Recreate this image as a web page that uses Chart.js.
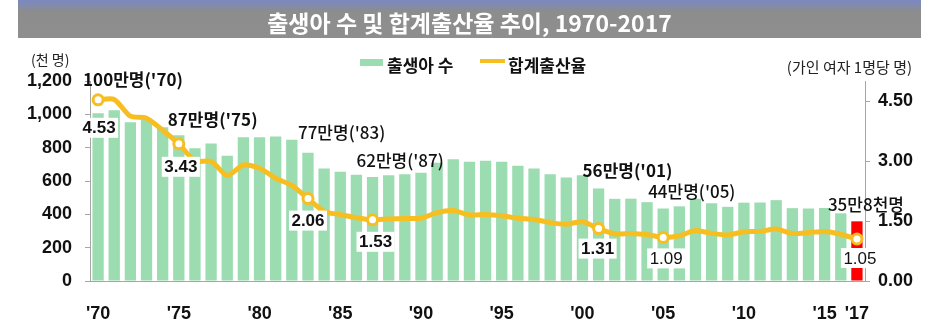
<!DOCTYPE html>
<html>
<head>
<meta charset="utf-8">
<script src="https://cdn.jsdelivr.net/npm/chart.js@4"></script>
<style>
  body { margin: 0; background: #fff; }
  #wrap { position: relative; width: 940px; height: 329px; }
  #title {
    position: absolute; left: 18px; top: 0; width: 903px; height: 38px;
    background: linear-gradient(#7a89c2 0px, #8d8d8d 12px, #8e8e8e 38px);
    color: #fff; font: bold 23px 'Noto Sans CJK KR', sans-serif;
    text-align: center; line-height: 44px; z-index: 2;
  }
  canvas { position: absolute; left: 0; top: 0; }
</style>
</head>
<body>
<div id="wrap">
  <div id="title">출생아 수 및 합계출산율 추이, 1970-2017</div>
  <canvas id="myChart" width="940" height="329"></canvas>
</div>
<script>
const years = [
  1970, 1971, 1972, 1973, 1974, 1975, 1976, 1977, 1978, 1979,
  1980, 1981, 1982, 1983, 1984, 1985, 1986, 1987, 1988, 1989,
  1990, 1991, 1992, 1993, 1994, 1995, 1996, 1997, 1998, 1999,
  2000, 2001, 2002, 2003, 2004, 2005, 2006, 2007, 2008, 2009,
  2010, 2011, 2012, 2013, 2014, 2015, 2016, 2017,
];

// 출생아 수 (천 명)
const births = [
  1007, 1025, 952, 967, 923, 875, 797, 825, 751, 863,
  863, 867, 848, 770, 675, 656, 637, 624, 634, 640,
  650, 709, 731, 716, 721, 715, 691, 675, 641, 621,
  635, 555, 493, 494, 473, 435, 448, 493, 466, 445,
  470, 471, 485, 437, 435, 438, 406, 358,
];

// 합계출산율 (가임 여자 1명당 명)
const tfr = [
  4.53, 4.54, 4.12, 4.07, 3.77, 3.43, 3.00, 2.99, 2.64, 2.90,
  2.82, 2.57, 2.39, 2.06, 1.74, 1.66, 1.58, 1.53, 1.55, 1.56,
  1.57, 1.71, 1.76, 1.65, 1.66, 1.63, 1.57, 1.54, 1.46, 1.42,
  1.48, 1.31, 1.18, 1.19, 1.16, 1.09, 1.13, 1.26, 1.19, 1.15,
  1.23, 1.24, 1.30, 1.19, 1.21, 1.24, 1.17, 1.05,
];

const tickYears = [1970, 1975, 1980, 1985, 1990, 1995, 2000, 2005, 2010, 2015, 2017];
const tickText = ["'70", "'75", "'80", "'85", "'90", "'95", "'00", "'05", "'10", "'15", "'17"];
const leftTicks = [0, 200, 400, 600, 800, 1000, 1200];
const rightTicks = [0, 1.5, 3.0, 4.5];

// 강조 연도
const noteYears = [1970, 1975, 1983, 1987, 2001, 2005, 2017];
const birthNotes = ["100만명('70)", "87만명('75)", "77만명('83)", "62만명('87)", "56만명('01)", "44만명('05)", "35만8천명"];

const GREEN = 'rgb(155,220,176)';
const RED = '#ff0000';
const GOLD = 'rgb(247,190,33)';
const AXIS = '#a6a6a6';
const NUM_FONT = "'Liberation Sans', Arial, 'Noto Sans CJK KR', sans-serif";
const KR_FONT = "'Noto Sans CJK KR', sans-serif";

const noteIdx = noteYears.map(y => years.indexOf(y));

function comma(v) {
  const s = String(v);
  return s.length > 3 ? s.slice(0, s.length - 3) + ',' + s.slice(-3) : s;
}

// 라벨 배치 (픽셀 오프셋)
const birthNoteStyle = [
  { dx: -15, dy: -34, w: 'bold' },
  { dx: -11, dy: -16, w: 'bold' },
  { dx: -10, dy: -20, w: '500' },
  { dx: -16, dy: -16, w: '500' },
  { dx: -16, dy: -18, w: 'bold' },
  { dx: -15, dy: -17, w: '500' },
  { dx: -29, dy: -17, w: '500' },
];
const rateNoteStyle = [
  { dx: 1, dy: 28, w: 'bold' },
  { dx: 2, dy: 23, w: 'bold' },
  { dx: 0, dy: 22, w: 'bold' },
  { dx: 3, dy: 22, w: 'bold' },
  { dx: -1, dy: 20, w: 'bold' },
  { dx: 3, dy: 21, w: 'normal' },
  { dx: 3, dy: 19, w: 'normal' },
];

const notesPlugin = {
  id: 'notes',
  afterDatasetsDraw(chart) {
    const { ctx, scales: { x, y, y1 } } = chart;
    ctx.save();
    ctx.textBaseline = 'middle';
    // 출생아 수 주석
    noteIdx.forEach((i, k) => {
      const st = birthNoteStyle[k];
      ctx.font = st.w + ' 17px ' + KR_FONT;
      ctx.fillStyle = '#111';
      ctx.textAlign = 'left';
      ctx.fillText(birthNotes[k], x.getPixelForValue(i) + st.dx, y.getPixelForValue(births[i]) + st.dy);
    });
    // 합계출산율 값 (흰 박스)
    noteIdx.forEach((i, k) => {
      const st = rateNoteStyle[k];
      const txt = tfr[i].toFixed(2);
      const cx = x.getPixelForValue(i) + st.dx;
      const cy = y1.getPixelForValue(tfr[i]) + st.dy;
      ctx.font = st.w + ' 17px ' + NUM_FONT;
      const w = ctx.measureText(txt).width + 5;
      ctx.fillStyle = '#fff';
      ctx.fillRect(cx - w / 2, cy - 10, w, 20);
      ctx.fillStyle = '#111';
      ctx.textAlign = 'center';
      ctx.fillText(txt, cx, cy + 1);
    });
    ctx.restore();
  },
  afterDraw(chart) {
    const { ctx } = chart;
    ctx.save();
    ctx.textBaseline = 'middle';
    ctx.fillStyle = '#222';
    // 단위
    ctx.font = '14px ' + KR_FONT;
    ctx.textAlign = 'left';
    ctx.fillText('(천 명)', 31, 60);
    ctx.font = '15px ' + KR_FONT;
    ctx.textAlign = 'right';
    ctx.fillText('(가인 여자 1명당 명)', 912, 67);
    // 범례
    ctx.fillStyle = GREEN;
    ctx.fillRect(360, 59, 23, 7);
    ctx.fillStyle = GOLD;
    ctx.fillRect(480, 59, 25, 4);
    ctx.fillStyle = '#111';
    ctx.textAlign = 'left';
    ctx.font = 'bold 17px ' + KR_FONT;
    ctx.fillText('출생아 수', 387, 66);
    ctx.fillText('합계출산율', 508, 66);
    ctx.restore();
  },
};

const ctx = document.getElementById('myChart').getContext('2d');

const config = {
  data: {
    labels: years,
    datasets: [
      {
        type: 'line',
        label: '합계출산율',
        data: tfr,
        yAxisID: 'y1',
        order: 0,
        borderColor: GOLD,
        borderWidth: 5,
        tension: 0.25,
        borderJoinStyle: 'round',
        borderCapStyle: 'round',
        pointRadius: (c) => noteIdx.includes(c.dataIndex) ? 5 : 0,
        pointHoverRadius: 0,
        pointBackgroundColor: '#fff',
        pointBorderColor: GOLD,
        pointBorderWidth: 3,
      },
      {
        type: 'bar',
        label: '출생아 수',
        data: births,
        yAxisID: 'y',
        order: 1,
        backgroundColor: (c) => c.dataIndex === births.length - 1 ? RED : GREEN,
        barPercentage: 0.7,
        categoryPercentage: 1.0,
      },
    ],
  },
  options: {
    responsive: false,
    devicePixelRatio: 1,
    animation: false,
    layout: { padding: { top: 81, left: 0, right: 0, bottom: 0 } },
    plugins: {
      legend: { display: false },
      tooltip: { enabled: false },
    },
    scales: {
      x: {
        grid: { display: false, drawTicks: false },
        border: { display: true, color: AXIS, width: 1 },
        ticks: {
          autoSkip: false,
          maxRotation: 0,
          padding: 22,
          color: '#111',
          font: { family: NUM_FONT, size: 18, weight: 'bold' },
          callback: (v, i) => {
            const k = tickYears.indexOf(years[i]);
            return k >= 0 ? tickText[k] : '';
          },
        },
        afterFit: (s) => { s.height = 48; },
      },
      y: {
        position: 'left',
        min: 0,
        max: 1200,
        grid: { drawOnChartArea: false, drawTicks: true, tickLength: 5, color: AXIS },
        border: { display: true, color: AXIS, width: 1 },
        afterBuildTicks: (s) => { s.ticks = leftTicks.map(v => ({ value: v })); },
        ticks: {
          padding: 13,
          color: '#111',
          font: { family: NUM_FONT, size: 18, weight: 'bold' },
          callback: (v) => comma(v),
        },
        afterFit: (s) => { s.width = 90; },
      },
      y1: {
        position: 'right',
        min: 0,
        max: 5,
        grid: { drawOnChartArea: false, drawTicks: true, tickLength: 5, color: AXIS },
        border: { display: true, color: AXIS, width: 1 },
        afterBuildTicks: (s) => { s.ticks = rightTicks.map(v => ({ value: v })); },
        ticks: {
          padding: 8,
          color: '#111',
          font: { family: NUM_FONT, size: 18, weight: 'bold' },
          callback: (v) => Number(v).toFixed(2),
        },
        afterFit: (s) => { s.width = 75; },
      },
    },
  },
  plugins: [notesPlugin],
};

const myChart = new Chart(ctx, config);
</script>
</body>
</html>
